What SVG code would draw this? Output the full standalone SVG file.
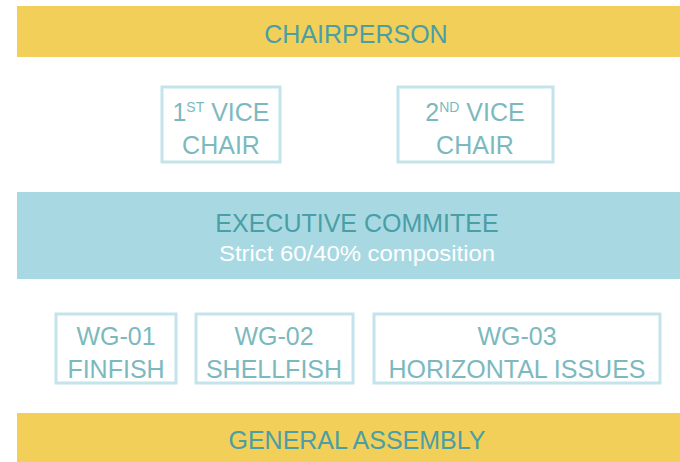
<svg xmlns="http://www.w3.org/2000/svg" width="680" height="462" viewBox="0 0 680 462">
<style>
text{font-family:"Liberation Sans","DejaVu Sans",sans-serif;text-anchor:middle}
.bar{fill:#f2cf59}
.exec{fill:#a8d9e2}
.box{fill:#ffffff;stroke:#c3e4eb;stroke-width:3}
.dark{fill:#4a9ea6;font-size:25px}
.lt{fill:#7cb9be;font-size:25px}
.sub{fill:#ffffff;font-size:22px}
.sup{font-size:14px}
</style>
<rect width="680" height="462" fill="#ffffff"/>
<g id="chairperson">
<rect class="bar" x="17" y="6" width="663" height="51"/>
<text class="dark" x="356" y="43">CHAIRPERSON</text>
</g>
<g id="vice1">
<rect class="box" x="162" y="87" width="118" height="75"/>
<text class="lt" x="221" y="121">1<tspan class="sup" dy="-9">ST</tspan><tspan dy="9"> VICE</tspan></text>
<text class="lt" x="221" y="154">CHAIR</text>
</g>
<g id="vice2">
<rect class="box" x="398" y="87" width="155" height="75"/>
<text class="lt" x="475" y="121">2<tspan class="sup" dy="-9">ND</tspan><tspan dy="9"> VICE</tspan></text>
<text class="lt" x="475" y="154">CHAIR</text>
</g>
<g id="executive">
<rect class="exec" x="17" y="192" width="663" height="87"/>
<text class="dark" x="357" y="232">EXECUTIVE COMMITEE</text>
<text class="sub" x="357" y="261" textLength="276" lengthAdjust="spacingAndGlyphs">Strict 60/40% composition</text>
</g>
<g id="wg01">
<rect class="box" x="56" y="314" width="120" height="69"/>
<text class="lt" x="116" y="345">WG-01</text>
<text class="lt" x="116" y="378">FINFISH</text>
</g>
<g id="wg02">
<rect class="box" x="196" y="314" width="157" height="69"/>
<text class="lt" x="274" y="345">WG-02</text>
<text class="lt" x="274" y="378">SHELLFISH</text>
</g>
<g id="wg03">
<rect class="box" x="374" y="314" width="286" height="69"/>
<text class="lt" x="517" y="345">WG-03</text>
<text class="lt" x="517" y="378">HORIZONTAL ISSUES</text>
</g>
<g id="general-assembly">
<rect class="bar" x="17" y="413" width="663" height="49"/>
<text class="dark" x="357" y="449">GENERAL ASSEMBLY</text>
</g>
<g id="connectors"></g>
</svg>
